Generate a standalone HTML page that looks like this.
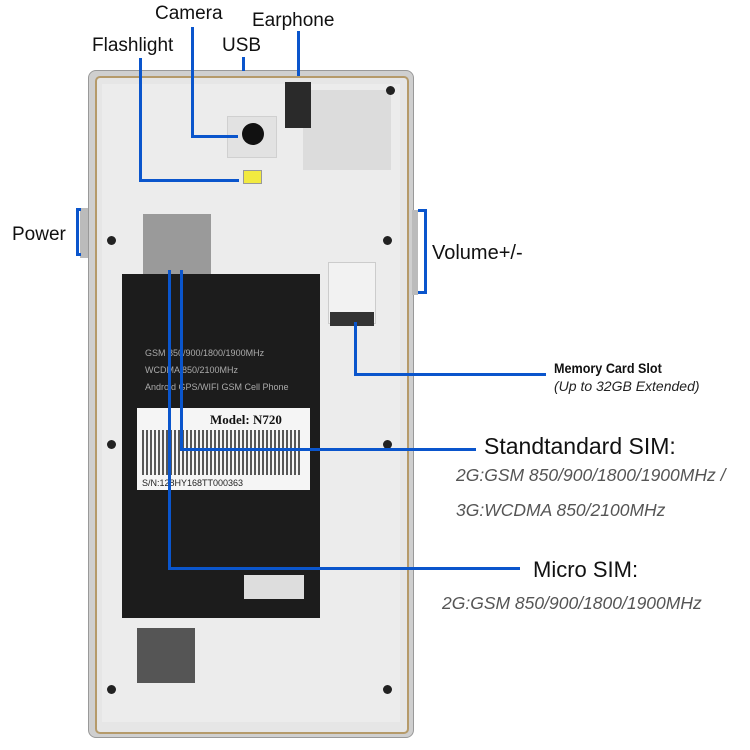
<!DOCTYPE html>
<html><head><style>
body{margin:0;width:750px;height:750px;background:#fff;position:relative;overflow:hidden;font-family:"Liberation Sans",sans-serif}
.a{position:absolute}
.t{position:absolute;font-size:19px;color:#111;white-space:nowrap}
.b{position:absolute;background:#0a55cc}
.d{position:absolute;width:9px;height:9px;border-radius:50%;background:#222}
.i{position:absolute;font-style:italic;color:#555;font-size:17.5px;white-space:nowrap}
</style></head><body>
<div class="a" style="left:88px;top:70px;width:324px;height:666px;background:#cfcfcf;border-radius:8px;border:1px solid #999"></div>
<div class="a" style="left:95px;top:76px;width:310px;height:654px;background:#e6e6e6;border:2px solid #b59a6a;border-radius:5px"></div>
<div class="a" style="left:102px;top:84px;width:298px;height:638px;background:#ececec"></div>
<div class="a" style="left:303px;top:90px;width:88px;height:80px;background:#dcdcdc"></div>
<div class="a" style="left:227px;top:116px;width:48px;height:40px;background:#e2e2e2;border:1px solid #d0d0d0"></div>
<div class="a" style="left:242px;top:123px;width:22px;height:22px;border-radius:50%;background:#111"></div>
<div class="a" style="left:243px;top:170px;width:17px;height:12px;background:#f2ea40;border:1px solid #999"></div>
<div class="a" style="left:285px;top:82px;width:26px;height:46px;background:#2a2a2a"></div>
<div class="a" style="left:80px;top:208px;width:8px;height:50px;background:#bbb"></div>
<div class="a" style="left:412px;top:210px;width:6px;height:85px;background:#bbb"></div>
<div class="a" style="left:143px;top:214px;width:68px;height:60px;background:#9a9a9a"></div>
<div class="a" style="left:328px;top:262px;width:46px;height:60px;background:#f2f2f2;border:1px solid #ccc"></div>
<div class="a" style="left:330px;top:312px;width:44px;height:14px;background:#333"></div>
<div class="a" style="left:122px;top:274px;width:198px;height:344px;background:#1c1c1c"></div>
<div class="a" style="left:145px;top:345px;font-family:'Liberation Sans';font-size:9px;color:#aaa;line-height:17px">GSM 850/900/1800/1900MHz<br>WCDMA 850/2100MHz<br>Android GPS/WIFI GSM Cell Phone</div>
<div class="a" style="left:137px;top:408px;width:173px;height:82px;background:#f5f5f5"></div>
<div class="a" style="left:210px;top:412px;font-family:'Liberation Serif';font-size:13px;font-weight:bold;color:#111">Model: N720</div>
<div class="a" style="left:142px;top:430px;width:160px;height:45px;background:repeating-linear-gradient(90deg,#222 0 2px,#f5f5f5 2px 4px);opacity:.75"></div>
<div class="a" style="left:142px;top:478px;font-size:9px;color:#222">S/N:128HY168TT000363</div>
<div class="a" style="left:244px;top:575px;width:60px;height:24px;background:#ddd"></div>
<div class="a" style="left:137px;top:628px;width:58px;height:55px;background:#555"></div>
<div class="d" style="left:107px;top:236px"></div><div class="d" style="left:383px;top:236px"></div>
<div class="d" style="left:107px;top:440px"></div><div class="d" style="left:383px;top:440px"></div>
<div class="d" style="left:107px;top:685px"></div><div class="d" style="left:383px;top:685px"></div>
<div class="d" style="left:386px;top:86px"></div>
<div class="t" style="left:155px;top:3px">Camera</div>
<div class="t" style="left:252px;top:10px">Earphone</div>
<div class="t" style="left:92px;top:35px">Flashlight</div>
<div class="t" style="left:222px;top:35px">USB</div>
<div class="t" style="left:12px;top:224px">Power</div>
<div class="t" style="left:432px;top:242px;font-size:20px">Volume+/-</div>
<div class="a" style="left:554px;top:360px;font-size:14px;font-weight:bold;color:#111;transform:scaleX(.9);transform-origin:left">Memory Card Slot</div>
<div class="a" style="left:554px;top:378px;font-size:14px;font-style:italic;color:#222">(Up to 32GB Extended)</div>
<div class="t" style="left:484px;top:433px;font-size:23px">Standtandard SIM:</div>
<div class="i" style="left:456px;top:465px">2G:GSM 850/900/1800/1900MHz /</div>
<div class="i" style="left:456px;top:500px">3G:WCDMA 850/2100MHz</div>
<div class="t" style="left:533px;top:557px;font-size:22px">Micro SIM:</div>
<div class="i" style="left:442px;top:593px">2G:GSM 850/900/1800/1900MHz</div>
<div class="b" style="left:191px;top:27px;width:3px;height:110px"></div>
<div class="b" style="left:191px;top:135px;width:47px;height:3px"></div>
<div class="b" style="left:139px;top:58px;width:3px;height:123px"></div>
<div class="b" style="left:139px;top:179px;width:100px;height:3px"></div>
<div class="b" style="left:242px;top:57px;width:3px;height:14px"></div>
<div class="b" style="left:297px;top:31px;width:3px;height:45px"></div>
<div class="b" style="left:76px;top:208px;width:3px;height:48px"></div><div class="b" style="left:76px;top:208px;width:5px;height:3px"></div><div class="b" style="left:76px;top:253px;width:5px;height:3px"></div>
<div class="b" style="left:424px;top:209px;width:3px;height:85px"></div><div class="b" style="left:418px;top:209px;width:8px;height:3px"></div><div class="b" style="left:418px;top:291px;width:8px;height:3px"></div>
<div class="b" style="left:354px;top:322px;width:3px;height:53px"></div>
<div class="b" style="left:354px;top:373px;width:192px;height:3px"></div>
<div class="b" style="left:180px;top:270px;width:3px;height:180px"></div>
<div class="b" style="left:180px;top:448px;width:296px;height:3px"></div>
<div class="b" style="left:168px;top:270px;width:3px;height:300px"></div>
<div class="b" style="left:168px;top:567px;width:352px;height:3px"></div>
</body></html>
